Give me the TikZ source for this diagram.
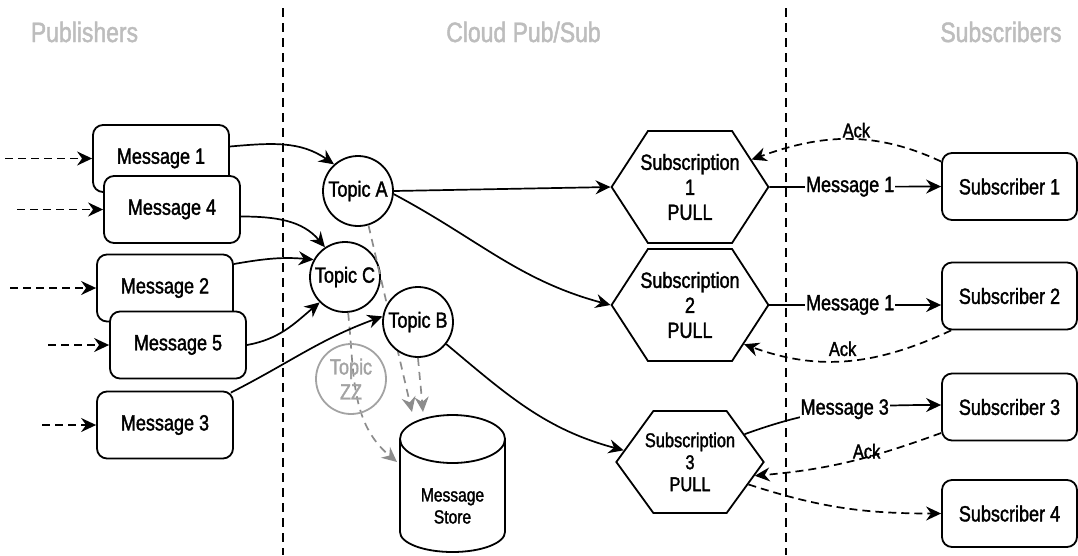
\documentclass[tikz,border=0pt]{standalone}
\usepackage{fontspec}
\setmainfont{Liberation Sans}[FakeStretch=0.82,FakeBold=1.6]
\usetikzlibrary{arrows.meta,shapes.symbols,calc}
\definecolor{hdr}{HTML}{BDBDBD}
\definecolor{gline}{HTML}{8C8C8C}
\definecolor{zzc}{HTML}{A3A3A3}
\begin{document}
\begin{tikzpicture}[x=1pt,y=-1pt,
  every node/.style={font=\fontsize{22}{25}\selectfont},
  box/.style={draw, line width=1.8pt, rounded corners=10pt, fill=white, minimum width=136pt, minimum height=67pt, inner sep=0pt},
  topic/.style={draw, circle, line width=1.8pt, fill=white, minimum size=70pt, inner sep=0pt, align=center},
  hexa/.style={draw, signal, signal to=east and west, signal pointer angle=114, line width=1.8pt, fill=white, minimum height=112pt, inner ysep=0pt, inner xsep=-7.6pt, align=center},
  tip/.style={-{Stealth[length=15pt,width=14pt,inset=5pt]}},
  flow/.style={tip, line width=1.7pt},
  dflow/.style={flow, dash pattern=on 8pt off 5pt},
  gflow/.style={tip, line width=1.7pt, draw=gline, dash pattern=on 8pt off 6pt},
  header/.style={text=hdr, font=\fontsize{28}{30}\selectfont},
  divider/.style={line width=1.7pt, dash pattern=on 9pt off 6pt},
  elabel/.style={fill=white, inner sep=1pt},
  acklabel/.style={font=\fontsize{20}{22}\selectfont, inner sep=1pt}
]
\useasboundingbox (0,0) rectangle (1078,555);

% dividers and headers
\draw[divider] (283,8) -- (283,555);
\draw[divider] (786,8) -- (786,555);
\node[header] (hpub) at (84.5,32) {Publishers};
\node[header] (hcloud) at (523.5,32) {Cloud Pub/Sub};
\node[header] (hsub) at (1001,32) {Subscribers};

% message store cylinder
\draw[line width=1.8pt] (400,439) arc[start angle=180, end angle=0, x radius=52.5pt, y radius=24pt]
  -- (505,532) arc[start angle=0, end angle=-180, x radius=52.5pt, y radius=20pt] -- cycle;
\draw[line width=1.8pt] (400,439) arc[start angle=180, end angle=360, x radius=52.5pt, y radius=24pt];
\node[font=\fontsize{19}{22}\selectfont, align=center, inner sep=0pt] (store) at (452.5,506) {Message\\Store};
\coordinate (st1) at (412,412);
\coordinate (st2) at (423,412);
\coordinate (stl) at (397,462);

% topics
\node[topic] (tA) at (358,191) {Topic A};
\node[topic] (tC) at (345,277) {Topic C};
\draw[gflow] (tA.-73) -- (st1);
\draw[gflow] (tC.-85) to[out=-84,in=140] (stl);
\node[topic] (tB) at (418,322) {Topic B};
\draw[gflow] (tB.-90) to[out=-85,in=95] (st2);
\node[topic, fill=none, draw=zzc, text=zzc] (tZ) at (351,379) {Topic\\ZZ};

% messages
\node[box] (m1) at (161,158.5) {Message 1};
\node[box] (m4) at (172,209.5) {Message 4};
\node[box] (m2) at (165,288) {Message 2};
\node[box] (m5) at (178,345) {Message 5};
\node[box] (m3) at (165,425) {Message 3};

\coordinate (i1) at (5,158.5);
\coordinate (i4) at (17,209.5);
\coordinate (i2) at (10,288);
\coordinate (i5) at (48,345);
\coordinate (i3) at (42,425);
\draw[dflow] (i1) -- (m1.west);
\draw[dflow] (i4) -- (m4.west);
\draw[dflow] (i2) -- (m2.west);
\draw[dflow] (i5) -- (m5.west);
\draw[dflow] (i3) -- (m3.west);

\draw[flow] ([yshift=12pt]m1.east) to[out=5,in=145] (tA.132);
\draw[flow] ([yshift=-7pt]m4.east) to[out=0,in=130] (tC.124);
\draw[flow] ([yshift=24pt]m2.east) to[out=10,in=175] (tC.151);
\draw[flow] (m5.east) to[out=10,in=220] (tC.225);
\draw[flow] ([xshift=-3pt,yshift=-2pt]m3.north east) to[out=27,in=200] (tB.171);

% subscriptions
\node[hexa] (s1) at (690,187) {Subscription\\1\\PULL};
\node[hexa] (s2) at (690,305) {Subscription\\2\\PULL};
\node[hexa, minimum height=102pt, signal pointer angle=108, inner xsep=-8.5pt, font=\fontsize{20}{22}\selectfont] (s3) at (690,462) {Subscription\\3\\PULL};

\draw[flow] (tA.east) -- (s1.west);
\draw[flow] (tA.-5) to[out=-28,in=165] (s2.west);
\draw[flow] (tB.-38) to[out=-40,in=165] (s3.170);

% subscribers
\node[box, minimum width=135pt] (b1) at (1009.5,186.5) {Subscriber 1};
\node[box, minimum width=135pt] (b2) at (1009.5,296) {Subscriber 2};
\node[box, minimum width=135pt] (b3) at (1009.5,407) {Subscriber 3};
\node[box, minimum width=135pt] (b4) at (1009.5,513.5) {Subscriber 4};

\draw[flow] (s1.east) -- node[elabel, pos=0.47] {Message 1} (b1.west);
\draw[flow] (s2.east) -- node[elabel, pos=0.47] {Message 1} ([yshift=-9pt]b2.west);
\draw[flow] (s3.27) to[out=20,in=180] node[elabel, pos=0.52] {Message 3} ([yshift=2pt]b3.west);

\draw[dflow] ([yshift=25pt]b1.west) to[out=155,in=20] node[acklabel, above, pos=0.45] {Ack} (s1.24);
\draw[dflow] ([xshift=10pt]b2.south west) to[out=205,in=-20] node[acklabel, above=3pt, pos=0.53] {Ack} (s2.-36);
\draw[dflow] ([yshift=-26pt]b3.west) to[out=200,in=5] node[acklabel, pos=0.4, yshift=6pt] {Ack} (s3.-12);
\draw[dflow] (s3.-21) to[out=-18,in=180] (b4.west);
\end{tikzpicture}
\end{document}
